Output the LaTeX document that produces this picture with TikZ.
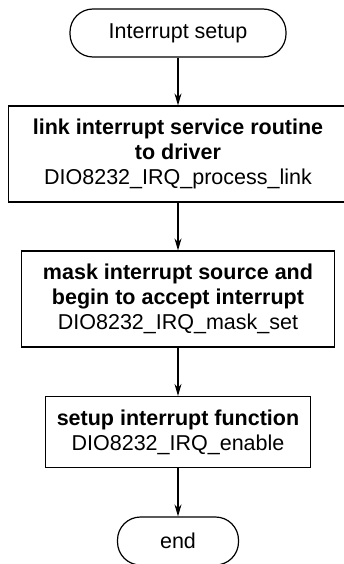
\documentclass[tikz,border=0pt]{standalone}
\usepackage{fontspec}
\setmainfont{Liberation Sans}
\usetikzlibrary{arrows.meta}
\begin{document}
\begin{tikzpicture}[x=1pt,y=-1pt,
  every node/.style={font=\fontsize{21.5}{25}\selectfont, align=center, inner sep=0pt},
  term/.style={draw, line width=1.2pt, rounded corners=23pt, minimum height=48pt},
  proc/.style={draw, line width=1.2pt},
  arr/.style={line width=1.2pt, -{Stealth[length=12pt,width=7pt,inset=4pt]}}]
\useasboundingbox (0,0) rectangle (344,564);
\node[term, minimum width=216pt] (s) at (178,33) {Interrupt setup};
\node[proc, minimum width=339pt, minimum height=96pt] (b1) at (178,154)
  {\textbf{link interrupt service routine}\\\textbf{to driver}\\DIO8232\_IRQ\_process\_link};
\node[proc, minimum width=313pt, minimum height=96pt] (b2) at (178,299)
  {\textbf{mask interrupt source and}\\\textbf{begin to accept interrupt}\\DIO8232\_IRQ\_mask\_set};
\node[proc, minimum width=265pt, minimum height=71pt] (b3) at (178,432)
  {\textbf{setup interrupt function}\\DIO8232\_IRQ\_enable};
\node[term, minimum width=121pt] (e) at (178,541) {end};
\draw[arr] (s) -- (b1);
\draw[arr] (b1) -- (b2);
\draw[arr] (b2) -- (b3);
\draw[arr] (b3) -- (e);
\end{tikzpicture}
\end{document}
